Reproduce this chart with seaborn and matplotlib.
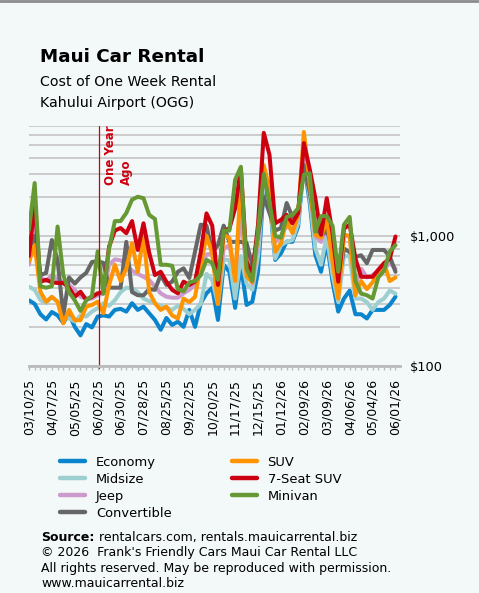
import numpy as np
import pandas as pd
import matplotlib
matplotlib.use('Agg')
import matplotlib.pyplot as plt
from matplotlib.ticker import FixedLocator, FixedFormatter, LogLocator, NullFormatter
from matplotlib.lines import Line2D
import seaborn as sns

# weekly pickup dates
weeks = pd.date_range('2025-03-10', periods=65, freq='7D')

economy = [320, 300, 250, 228, 260, 245, 215, 250, 200, 172, 210, 198, 240, 245, 240, 270,
           275, 262, 304, 270, 286, 254, 226, 190, 234, 207, 219, 200, 270, 200, 304, 362,
           400, 226, 600, 530, 280, 600, 295, 312, 530, 2400, 1900, 654, 735, 905, 900, 1180,
           3600, 1840, 715, 530, 900, 445, 262, 330, 380, 250, 250, 232, 270, 270, 270, 295, 341]
midsize = [407, 385, 322, 304, 340, 312, 262, 232, 220, 245, 240, 262, 278, 304, 290, 320,
           370, 400, 395, 370, 330, 315, 304, 290, 280, 270, 290, 275, 250, 270, 300, 510,
           460, 300, 660, 650, 330, 700, 430, 385, 700, 2600, 2000, 670, 850, 900, 930, 1250,
           4000, 2000, 800, 600, 1000, 500, 310, 700, 700, 330, 330, 310, 270, 310, 330, 380, 360]
jeep = [600, 1200, 480, 450, 500, 460, 440, 420, 385, 340, 330, 330, 350, 360, 600, 660,
        650, 600, 540, 510, 485, 458, 407, 362, 341, 335, 335, 362, 385, 420, 563, 720,
        730, 360, 800, 850, 500, 1500, 530, 430, 900, 3000, 2500, 900, 1000, 1200, 1100, 1400,
        4500, 2500, 1000, 900, 1200, 700, 380, 1000, 1000, 420, 560, 480, 500, 540, 560, 620, 560]
convertible = [780, 1000, 500, 520, 930, 650, 245, 480, 430, 480, 520, 630, 640, 620, 400, 400,
               400, 900, 370, 350, 350, 390, 385, 500, 420, 445, 530, 563, 475, 757, 1220, 1200,
               750, 850, 1200, 900, 900, 900, 880, 600, 1000, 2000, 1500, 1100, 1150, 1790, 1400, 1530,
               3500, 2200, 1200, 1000, 1100, 800, 420, 800, 750, 690, 710, 617, 780, 780, 780, 695, 530]
suv = [635, 850, 372, 312, 340, 312, 213, 270, 225, 225, 286, 295, 312, 255, 420, 600,
       450, 560, 880, 530, 1000, 370, 304, 270, 286, 245, 232, 330, 310, 340, 600, 1000,
       740, 300, 1030, 960, 450, 2600, 490, 440, 1100, 3500, 2300, 757, 880, 1330, 1050, 1450,
       6300, 2600, 1020, 970, 1370, 635, 330, 1020, 1000, 350, 450, 390, 440, 530, 620, 450, 480]
seat7 = [700, 1800, 445, 460, 440, 435, 435, 400, 340, 372, 322, 340, 362, 370, 830, 1100,
         1150, 1050, 1300, 780, 1250, 740, 500, 530, 445, 385, 362, 445, 420, 445, 750, 1490,
         1200, 420, 1100, 1140, 1630, 3300, 640, 500, 1220, 6200, 4200, 1250, 1330, 1450, 1250, 1490,
         5170, 3300, 1950, 1020, 1950, 1050, 445, 1140, 1220, 670, 485, 485, 485, 550, 617, 670, 990]
minivan = [1110, 2550, 410, 400, 410, 1180, 500, 370, 320, 265, 320, 345, 760, 360, 800, 1300,
           1300, 1500, 1900, 2000, 1950, 1450, 1350, 600, 600, 590, 390, 375, 440, 450, 500, 654,
           620, 460, 1100, 1100, 2700, 3400, 560, 450, 1100, 3000, 1800, 1000, 970, 1400, 1450, 1630,
           2950, 3030, 1080, 1420, 1420, 1200, 530, 1220, 1400, 450, 360, 350, 330, 480, 540, 760, 850]

categories = ['Economy', 'Midsize', 'Jeep', 'Convertible', 'SUV', '7-Seat SUV', 'Minivan']
colors = ['#0A84CC', '#9ECFD0', '#CC9ACC', '#666666', '#FF9400', '#CC0010', '#669933']
tick_dates = weeks[::4]
one_year_ago = pd.Timestamp('2025-06-04')

series = [economy, midsize, jeep, convertible, suv, seat7, minivan]
df = pd.concat([pd.DataFrame({'week': weeks, 'cost': vals, 'car': name})
                for name, vals in zip(categories, series)], ignore_index=True)

bg = '#F3F8F8'
sns.set_style('white')
plt.rcParams['font.family'] = ['DejaVu Sans']
plt.rcParams['text.color'] = 'black'
plt.rcParams['xtick.color'] = 'black'
plt.rcParams['ytick.color'] = 'black'

fig = plt.figure(figsize=(4.79, 5.93), dpi=100, facecolor=bg)
ax = fig.add_axes([28.7/479, 1-366/593, (400-28.7)/479, 240/593])
ax.set_facecolor(bg)

sns.lineplot(data=df, x='week', y='cost', hue='car', hue_order=categories,
             palette=dict(zip(categories, colors)), linewidth=2.9, estimator=None,
             legend=False, ax=ax)

ax.set_yscale('log')
ax.set_ylim(100, 7000)
ax.set_xlim(weeks[0] - pd.Timedelta(days=0.3), weeks[-1] + pd.Timedelta(days=5.5))

# grid
ax.yaxis.set_major_locator(FixedLocator([100, 1000]))
ax.yaxis.set_major_formatter(FixedFormatter(['$100', '$1,000']))
ax.yaxis.set_minor_locator(LogLocator(base=10, subs=np.arange(2, 10)))
ax.yaxis.set_minor_formatter(NullFormatter())
ax.grid(axis='y', which='both', color='#C8C8C8', linewidth=1.3, zorder=0)
ax.set_axisbelow(True)
ax.yaxis.tick_right()
ax.tick_params(axis='y', which='both', length=0, pad=7, labelsize=9.3, labelcolor='black')

ax.set_xticks(tick_dates)
ax.set_xticklabels([d.strftime('%m/%d/%y') for d in tick_dates], rotation=90)
ax.set_xticks(weeks, minor=True)
ax.tick_params(axis='x', which='both', bottom=True, length=3, width=1, color='#BBBBBB',
               pad=6.5, labelsize=9, labelcolor='black')

for s in ['top', 'left', 'right']:
    ax.spines[s].set_visible(False)
ax.spines['bottom'].set_color('#BBBBBB')
ax.spines['bottom'].set_linewidth(2)
ax.set_xlabel('')
ax.set_ylabel('')

# one year ago marker
ax.axvline(one_year_ago, color='#CC0010', linewidth=0.9, ymin=-0.01, clip_on=False)
ax.text(one_year_ago + pd.Timedelta(days=6), 0.754, 'One Year\nAgo', transform=ax.get_xaxis_transform(),
        rotation=90, ha='left', va='bottom', multialignment='left', color='#CC0010',
        fontsize=8.5, fontweight='bold', linespacing=1.25)

# titles
fig.text(40/479, 1-62.3/593, 'Maui Car Rental', fontsize=13.2, fontweight='bold', va='baseline')
fig.text(40/479, 1-86/593, 'Cost of One Week Rental', fontsize=10.2, va='baseline')
fig.text(40/479, 1-107.3/593, 'Kahului Airport (OGG)', fontsize=10.2, va='baseline')

# legend
handles = [Line2D([0], [0], color=c, lw=3.2) for c in colors]
fig.legend(handles, categories, ncol=2, loc='upper left', bbox_to_anchor=(60/479, 1-456/593),
           frameon=False, fontsize=9.4, handlelength=1.9, handletextpad=0.85,
           columnspacing=4.6, labelspacing=0.3, borderpad=0, borderaxespad=0)

# footer
fig.text(41/479, 1-540.7/593, 'Source:', fontsize=9, fontweight='bold', va='baseline')
fig.text(99.3/479, 1-540.7/593, 'rentalcars.com, rentals.mauicarrental.biz', fontsize=9, va='baseline')
fig.text(41/479, 1-556/593, '\u00a9 2026  Frank\'s Friendly Cars Maui Car Rental LLC', fontsize=9, va='baseline')
fig.text(41/479, 1-571.7/593, 'All rights reserved. May be reproduced with permission.', fontsize=9, va='baseline')
fig.text(41/479, 1-586.7/593, 'www.mauicarrental.biz', fontsize=9, va='baseline')

fig.add_artist(Line2D([0, 1], [0.999, 0.999], transform=fig.transFigure, color='#8C8C8C', lw=2))

fig.savefig('out.png', dpi=100, facecolor=bg)
